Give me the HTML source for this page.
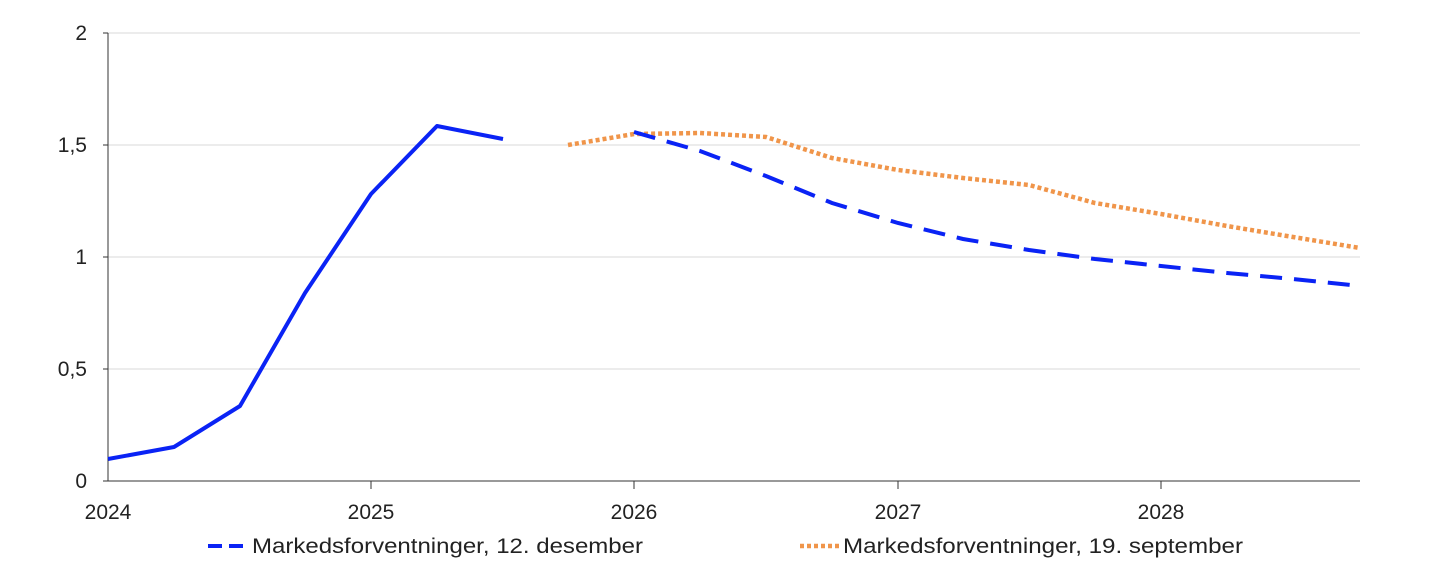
<!DOCTYPE html>
<html><head><meta charset="utf-8"><style>
html,body{margin:0;padding:0;background:#fff;}
svg{display:block;font-family:"Liberation Sans",sans-serif;}
</style></head><body>
<svg width="1445" height="575" viewBox="0 0 1445 575" xmlns="http://www.w3.org/2000/svg">
<g stroke="#d9d9d9" stroke-width="1">
<line x1="108" y1="33" x2="1360" y2="33"/>
<line x1="108" y1="145" x2="1360" y2="145"/>
<line x1="108" y1="257" x2="1360" y2="257"/>
<line x1="108" y1="369" x2="1360" y2="369"/>
</g>
<g stroke="#333" stroke-width="1">
<line x1="108" y1="33" x2="108" y2="481"/>
<line x1="108" y1="481" x2="1360" y2="481"/>
<line x1="371" y1="481" x2="371" y2="489"/>
<line x1="634" y1="481" x2="634" y2="489"/>
<line x1="898" y1="481" x2="898" y2="489"/>
<line x1="1161" y1="481" x2="1161" y2="489"/>
<line x1="103" y1="33" x2="108" y2="33"/>
<line x1="103" y1="145" x2="108" y2="145"/>
<line x1="103" y1="257" x2="108" y2="257"/>
<line x1="103" y1="369" x2="108" y2="369"/>
<line x1="103" y1="481" x2="108" y2="481"/>
</g>
<g font-size="21" fill="#222" text-anchor="end">
<text x="87" y="40">2</text>
<text x="87" y="152">1,5</text>
<text x="87" y="264">1</text>
<text x="87" y="376">0,5</text>
<text x="87" y="488">0</text>
</g>
<g font-size="21" fill="#222" text-anchor="middle">
<text x="108" y="519">2024</text>
<text x="371" y="519">2025</text>
<text x="634" y="519">2026</text>
<text x="898" y="519">2027</text>
<text x="1161" y="519">2028</text>
</g>
<polyline fill="none" stroke="#0a23f5" stroke-width="4" stroke-linejoin="round" points="108,459 174,447 240,406 305,293 371,194 437,126 503,139"/>
<polyline fill="none" stroke="#f0954a" stroke-width="4.5" stroke-dasharray="4,3" points="568,145 634,134 700,133 766,137 832,158 898,170 963,178 1029,185 1095,203 1161,214 1227,226 1293,237 1360,248"/>
<polyline fill="none" stroke="#0a23f5" stroke-width="4" stroke-dasharray="22,12" points="634,132 700,151 766,176 832,203 898,223 963,239 1029,250 1095,259 1161,266 1227,273 1293,279 1360,286"/>
<line x1="208" y1="546" x2="248" y2="546" stroke="#0a23f5" stroke-width="4" stroke-dasharray="14,7"/>
<text x="252" y="553" font-size="21" fill="#222" textLength="391" lengthAdjust="spacingAndGlyphs">Markedsforventninger, 12. desember</text>
<line x1="800" y1="546" x2="840" y2="546" stroke="#f0954a" stroke-width="4.5" stroke-dasharray="4,3"/>
<text x="843" y="553" font-size="21" fill="#222" textLength="400" lengthAdjust="spacingAndGlyphs">Markedsforventninger, 19. september</text>
</svg>
</body></html>
